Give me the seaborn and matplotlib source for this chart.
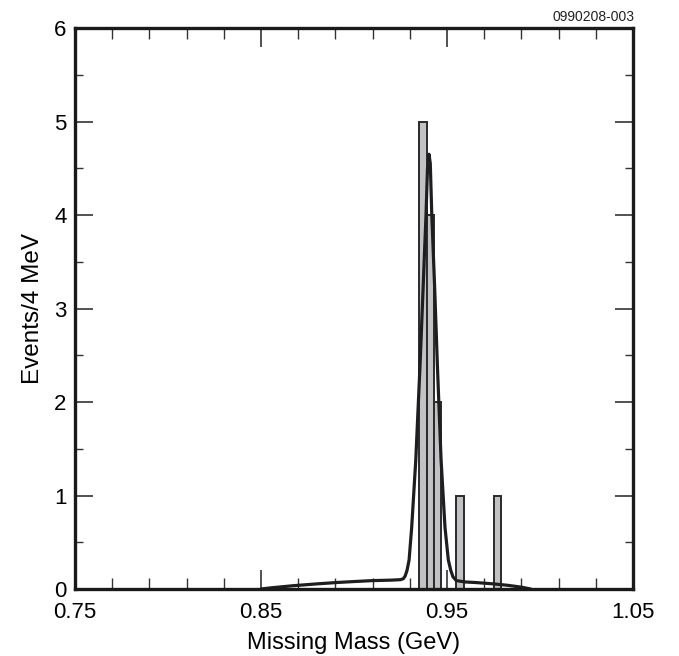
import numpy as np
import pandas as pd
import matplotlib
matplotlib.use("Agg")
import matplotlib.pyplot as plt
from matplotlib.ticker import FixedLocator, MultipleLocator
import seaborn as sns

# ---- data ----
bin_lo = [0.935, 0.939, 0.943, 0.955, 0.975]   # GeV, lower bin edges
counts = [5, 4, 2, 1, 1]                       # events per 4 MeV bin
bin_width = 0.004

curve_x = [0.850, 0.855, 0.867, 0.880, 0.891, 0.900, 0.910, 0.920, 0.925,
           0.9265, 0.9275, 0.9285, 0.9296, 0.9310, 0.9332, 0.9355, 0.9372,
           0.9387, 0.9395, 0.9403, 0.9410, 0.9418, 0.9433, 0.9448, 0.9468,
           0.9489, 0.9507, 0.9520, 0.9532, 0.9550, 0.9600, 0.9650, 0.9750,
           0.9825, 0.9900, 0.9950]
curve_y = [0.00, 0.012, 0.035, 0.055, 0.070, 0.080, 0.090, 0.095, 0.100,
           0.11, 0.14, 0.20, 0.31, 0.66, 1.38, 2.40, 3.25,
           4.00, 4.50, 4.65, 4.55, 4.00, 3.25, 2.40, 1.38,
           0.66, 0.31, 0.20, 0.13, 0.09, 0.075, 0.07, 0.055,
           0.04, 0.02, 0.00]

x_major = [0.75, 0.85, 0.95, 1.05]
x_labels = ["0.75", "0.85", "0.95", "1.05"]
y_major = [0, 1, 2, 3, 4, 5, 6]

sns.set_theme(style="white")
plt.rcParams['font.family'] = ['Liberation Sans', 'DejaVu Sans']

fig = plt.figure(figsize=(6.79, 6.56), dpi=100)
ax = fig.add_axes([0.1105, 0.1021, 0.8218, 0.8552])

hist_df = pd.DataFrame({"mass": np.array(bin_lo) + bin_width / 2, "n": counts})
n_bins = int(round((max(bin_lo) - min(bin_lo)) / bin_width)) + 1
sns.histplot(data=hist_df, x="mass", weights="n", bins=n_bins,
             binrange=(min(bin_lo), max(bin_lo) + bin_width), ax=ax,
             color="#c2c2c4", edgecolor="#2a2a2a", linewidth=1.4, alpha=1.0)

curve_df = pd.DataFrame({"x": curve_x, "y": curve_y})
sns.lineplot(data=curve_df, x="x", y="y", ax=ax, color="#1e1e1e",
             linewidth=2.3, sort=False)

ax.set_xlim(0.75, 1.05)
ax.set_ylim(0, 6)

ax.xaxis.set_major_locator(FixedLocator(x_major))
ax.set_xticklabels(x_labels)
ax.xaxis.set_minor_locator(FixedLocator(np.arange(0.77, 1.04, 0.02)))
ax.yaxis.set_major_locator(FixedLocator(y_major))
ax.yaxis.set_minor_locator(MultipleLocator(0.5))

ax.tick_params(axis="both", which="both", direction="in", top=True, right=True,
               bottom=True, left=True, colors="#333333", labelcolor="black",
               labelsize=16)
ax.tick_params(axis="x", which="major", length=14, width=1.2, pad=9)
ax.tick_params(axis="x", which="minor", length=8, width=1.0)
ax.tick_params(axis="y", which="major", length=13, width=1.2, pad=6)
ax.tick_params(axis="y", which="minor", length=6, width=1.0)

for s in ax.spines.values():
    s.set_visible(True)
    s.set_color("#1a1a1a")
    s.set_linewidth(2.4)

ax.set_xlabel("Missing Mass (GeV)", fontsize=17, labelpad=7, color="black")
ax.set_ylabel("Events/4 MeV", fontsize=17.5, labelpad=7, color="black")

fig.text(0.935, 0.963, "0990208-003", ha="right", va="bottom", fontsize=10,
         color="#222222")

fig.savefig("out.png", dpi=100)
